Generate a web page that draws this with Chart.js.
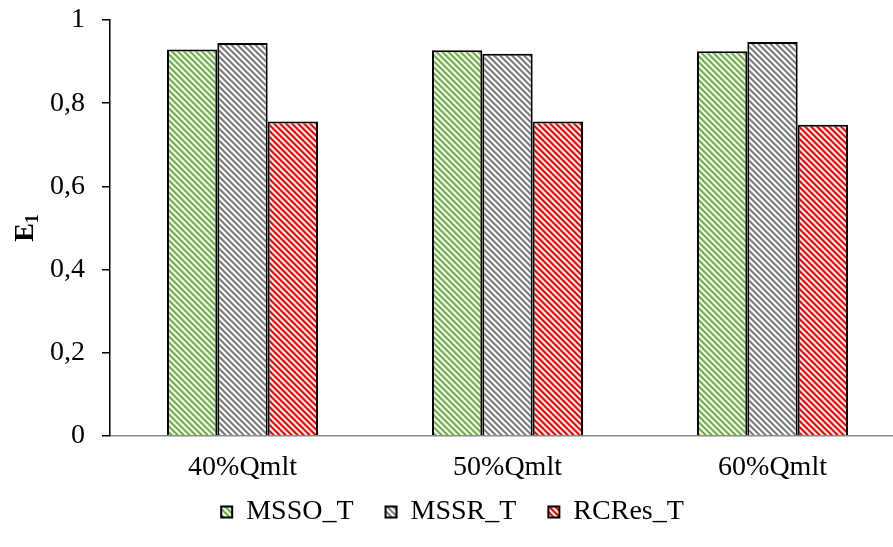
<!DOCTYPE html>
<html>
<head>
<meta charset="utf-8">
<script src="https://cdn.jsdelivr.net/npm/chart.js@4"></script>
<style>
  html, body { margin: 0; padding: 0; background: #fff; overflow: hidden; }
  #wrap { position: relative; width: 915px; height: 547px; }
</style>
</head>
<body>
<div id="wrap"><canvas id="c"></canvas></div>
<script>
// ---- data ----
const categories = ['40%Qmlt', '50%Qmlt', '60%Qmlt'];
const seriesNames = ['MSSO_T', 'MSSR_T', 'RCRes_T'];
const mssoT = [0.929, 0.927, 0.925];
const mssrT = [0.945, 0.919, 0.947];
const rcresT = [0.756, 0.756, 0.748];
const yTickValues = [0, 0.2, 0.4, 0.6, 0.8, 1];
const yTitleMain = 'E';
const yTitleSub = '1';

const FONT = '"Liberation Serif", "Times New Roman", serif';

function makePattern(fg, mid, bg) {
  const n = 6;
  const c = document.createElement('canvas');
  c.width = n; c.height = n;
  const ctx = c.getContext('2d');
  const cols = [fg, fg, mid, bg, bg, mid];
  for (let y = 0; y < n; y++) {
    for (let x = 0; x < n; x++) {
      ctx.fillStyle = cols[((x - y) % n + n) % n];
      ctx.fillRect(x, y, 1, 1);
    }
  }
  return ctx.createPattern(c, 'repeat');
}

const pGreen = makePattern('#6FAD45', '#B5D89E', '#F4FAF0');
const pGrey = makePattern('#7A7A7A', '#BDBDBD', '#FFFFFF');
const pRed = makePattern('#F20000', '#F78080', '#FFF0F0');

const yTitlePlugin = {
  id: 'yTitle',
  afterLayout(chart) {
    // let the category labels use the space below the axis box
    const xs = chart.scales.x;
    if (xs) xs.bottom = chart.height;
  },
  afterDraw(chart) {
    const ctx = chart.ctx;
    const a = chart.chartArea;
    const cy = (a.top + a.bottom) / 2;
    ctx.save();
    ctx.translate(24, cy);
    ctx.rotate(-Math.PI / 2);
    ctx.fillStyle = '#000';
    ctx.textBaseline = 'alphabetic';
    ctx.font = 'bold 28px ' + FONT;
    const wE = ctx.measureText(yTitleMain).width;
    ctx.font = 'bold 18px ' + FONT;
    const wS = ctx.measureText(yTitleSub).width;
    const total = wE + wS;
    ctx.font = 'bold 28px ' + FONT;
    ctx.fillText(yTitleMain, -total / 2, 9);
    ctx.font = 'bold 18px ' + FONT;
    ctx.fillText(yTitleSub, -total / 2 + wE, 14);
    ctx.restore();
  }
};

new Chart(document.getElementById('c'), {
  type: 'bar',
  data: {
    labels: categories,
    datasets: [
      { label: seriesNames[0], data: mssoT, backgroundColor: pGreen },
      { label: seriesNames[1], data: mssrT, backgroundColor: pGrey },
      { label: seriesNames[2], data: rcresT, backgroundColor: pRed }
    ]
  },
  options: {
    responsive: true,
    maintainAspectRatio: false,
    animation: false,
    devicePixelRatio: 1,
    layout: { padding: { top: 20, right: 10, bottom: 11, left: 0 } },
    datasets: {
      bar: {
        categoryPercentage: 0.57,
        barPercentage: 1.0,
        borderColor: '#000',
        borderWidth: 2
      }
    },
    scales: {
      x: {
        grid: { display: false, drawTicks: false },
        border: { display: true, color: '#8a8a8a', width: 1.5 },
        ticks: { color: '#000', font: { family: FONT, size: 28 }, padding: 15 },
        afterFit(scale) { scale.height = 30; }
      },
      y: {
        min: 0, max: 1,
        afterBuildTicks(scale) { scale.ticks = yTickValues.map(v => ({ value: v })); },
        grid: { display: true, drawOnChartArea: false, drawTicks: true, tickLength: 8, color: '#000', lineWidth: 1.5 },
        border: { display: true, color: '#000', width: 1.5 },
        ticks: {
          color: '#000',
          font: { family: FONT, size: 28 },
          padding: 17,
          callback: (v) => String(v).replace('.', ',')
        },
        afterFit(scale) { scale.width = 110; scale.paddingTop = 0; scale.paddingBottom = 0; }
      }
    },
    plugins: {
      legend: {
        position: 'bottom',
        labels: {
          color: '#000',
          font: { family: FONT, size: 28 },
          boxWidth: 11,
          boxHeight: 11,
          padding: 32
        }
      },
      tooltip: { enabled: false }
    }
  },
  plugins: [yTitlePlugin]
});
</script>
</body>
</html>
